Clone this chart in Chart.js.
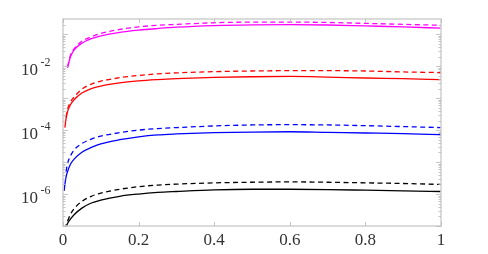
<!DOCTYPE html>
<html>
<head>
<meta charset="utf-8">
<script src="https://cdn.jsdelivr.net/npm/chart.js@4"></script>
<style>
  html, body { margin: 0; padding: 0; background: #fff; }
  #wrap { width: 488px; height: 254px; }
</style>
</head>
<body>
<div id="wrap"><canvas id="chart" width="488" height="254"></canvas></div>
<script>
// x positions shared by every curve
const xs = [0.003, 0.005, 0.008, 0.012, 0.02, 0.03, 0.05, 0.075, 0.1, 0.15, 0.2, 0.25, 0.3, 0.4, 0.5, 0.6, 0.7, 0.8, 0.9, 1.0];

const magentaSolid = [null, null, null, 8.91e-3, 2.0e-2, 3.31e-2, 5.25e-2, 7.24e-2, 8.91e-2, 0.115, 0.135, 0.151, 0.166, 0.186, 0.197, 0.200, 0.195, 0.182, 0.170, 0.155];
const magentaDashed = [null, null, null, 9.55e-3, 2.24e-2, 3.55e-2, 6.03e-2, 8.32e-2, 0.105, 0.141, 0.170, 0.191, 0.204, 0.229, 0.240, 0.240, 0.234, 0.219, 0.204, 0.191];
const redSolid = [null, 1.2e-4, 2.24e-4, 3.80e-4, 6.31e-4, 9.12e-4, 1.45e-3, 2.0e-3, 2.40e-3, 3.02e-3, 3.47e-3, 3.80e-3, 4.07e-3, 4.47e-3, 4.68e-3, 4.79e-3, 4.57e-3, 4.27e-3, 4.07e-3, 3.80e-3];
const redDashed = [null, null, 2.51e-4, 4.47e-4, 7.59e-4, 1.12e-3, 1.91e-3, 2.75e-3, 3.39e-3, 4.37e-3, 5.13e-3, 5.75e-3, 6.17e-3, 6.76e-3, 7.08e-3, 7.24e-3, 7.24e-3, 7.08e-3, 6.61e-3, 6.31e-3];
const blueSolid = [1.26e-6, 2.0e-6, 3.39e-6, 5.01e-6, 8.71e-6, 1.26e-5, 2.04e-5, 2.88e-5, 3.72e-5, 5.01e-5, 6.17e-5, 7.08e-5, 7.59e-5, 8.32e-5, 8.71e-5, 8.91e-5, 8.51e-5, 8.13e-5, 7.76e-5, 7.24e-5];
const blueDashed = [null, null, 5.01e-6, 8.91e-6, 1.58e-5, 2.45e-5, 3.80e-5, 5.25e-5, 6.46e-5, 8.32e-5, 1.0e-4, 1.12e-4, 1.20e-4, 1.35e-4, 1.45e-4, 1.48e-4, 1.45e-4, 1.38e-4, 1.29e-4, 1.20e-4];
const blackSolid = [null, null, 8.91e-8, 1.20e-7, 1.66e-7, 2.29e-7, 3.63e-7, 5.25e-7, 6.46e-7, 8.51e-7, 1.0e-6, 1.12e-6, 1.20e-6, 1.35e-6, 1.41e-6, 1.41e-6, 1.38e-6, 1.32e-6, 1.26e-6, 1.20e-6];
const blackDashed = [null, 7.94e-8, 1.05e-7, 1.41e-7, 2.34e-7, 3.55e-7, 5.89e-7, 8.51e-7, 1.07e-6, 1.41e-6, 1.70e-6, 1.91e-6, 2.04e-6, 2.24e-6, 2.34e-6, 2.40e-6, 2.34e-6, 2.24e-6, 2.14e-6, 2.0e-6];

const xTicks = [0, 0.2, 0.4, 0.6, 0.8, 1];
const xTickLabels = ['0', '0.2', '0.4', '0.6', '0.8', '1'];
const yTickExps = [-2, -4, -6];

const Y_MIN = 1e-7;
const Y_MAX = 0.3;

function series(ys, color, dashed) {
    return {
        data: xs.map((x, i) => ({ x: x, y: ys[i] })),
        borderColor: color,
        borderWidth: 1.3,
        borderDash: dashed ? [5, 3.5] : [],
        pointRadius: 0,
        fill: false,
        spanGaps: false,
        cubicInterpolationMode: 'monotone'
    };
}

// frame, inward ticks and the "10^n" labels
const framePlugin = {
    id: 'frame',
    afterDraw(chart) {
        const ctx = chart.ctx;
        const area = chart.chartArea;
        const xs_ = chart.scales.x;
        const ys_ = chart.scales.y;
        ctx.save();

        ctx.strokeStyle = '#d2d2d2';
        ctx.lineWidth = 1.6;
        ctx.strokeRect(area.left, area.top, area.right - area.left, area.bottom - area.top);

        ctx.strokeStyle = '#b8b8b8';
        ctx.lineWidth = 0.8;
        ctx.beginPath();
        xTicks.forEach(v => {
            const px = Math.round(xs_.getPixelForValue(v)) + 0.5;
            ctx.moveTo(px, area.bottom);
            ctx.lineTo(px, area.bottom - 4);
            ctx.moveTo(px, area.top);
            ctx.lineTo(px, area.top + 4);
        });
        for (let e = -8; e <= 0; e++) {
            for (let m = 1; m <= 9; m++) {
                const v = m * Math.pow(10, e);
                if (v < Y_MIN || v > Y_MAX) continue;
                const py = Math.round(ys_.getPixelForValue(v)) + 0.5;
                const len = m === 1 ? 5 : 2.5;
                ctx.moveTo(area.left, py);
                ctx.lineTo(area.left + len, py);
                ctx.moveTo(area.right, py);
                ctx.lineTo(area.right - len, py);
            }
        }
        ctx.stroke();

        ctx.fillStyle = '#333';
        ctx.font = '17px "Liberation Serif", "DejaVu Serif", serif';
        ctx.textAlign = 'center';
        ctx.textBaseline = 'middle';
        xTicks.forEach((v, i) => {
            ctx.fillText(xTickLabels[i], xs_.getPixelForValue(v), area.bottom + 15);
        });

        yTickExps.forEach(e => {
            const py = ys_.getPixelForValue(Math.pow(10, e));
            ctx.font = '17px "Liberation Serif", "DejaVu Serif", serif';
            ctx.textAlign = 'right';
            ctx.textBaseline = 'middle';
            ctx.fillText('10', 38, py + 4);
            ctx.font = '12px "Liberation Serif", "DejaVu Serif", serif';
            ctx.textAlign = 'left';
            ctx.fillText(String(e), 40.5, py - 3);
        });
        ctx.restore();
    }
};

const chart = new Chart(document.getElementById('chart'), {
    type: 'line',
    data: {
        datasets: [
            series(magentaSolid, '#ff00ff', false),
            series(magentaDashed, '#ff00ff', true),
            series(redSolid, '#ff0000', false),
            series(redDashed, '#ff0000', true),
            series(blueSolid, '#0000ff', false),
            series(blueDashed, '#0000ff', true),
            series(blackSolid, '#000000', false),
            series(blackDashed, '#000000', true)
        ]
    },
    options: {
        responsive: false,
        animation: false,
        devicePixelRatio: 1,
        layout: { padding: { left: 63, right: 47, top: 19, bottom: 28 } },
        plugins: { legend: { display: false }, tooltip: { enabled: false } },
        scales: {
            x: {
                type: 'linear',
                min: 0,
                max: 1,
                ticks: { display: false },
                grid: { display: false },
                border: { display: false },
                afterFit: s => { s.height = 0; }
            },
            y: {
                type: 'logarithmic',
                min: Y_MIN,
                max: Y_MAX,
                ticks: { display: false },
                grid: { display: false },
                border: { display: false },
                afterFit: s => { s.width = 0; }
            }
        }
    },
    plugins: [framePlugin]
});
</script>
</body>
</html>
